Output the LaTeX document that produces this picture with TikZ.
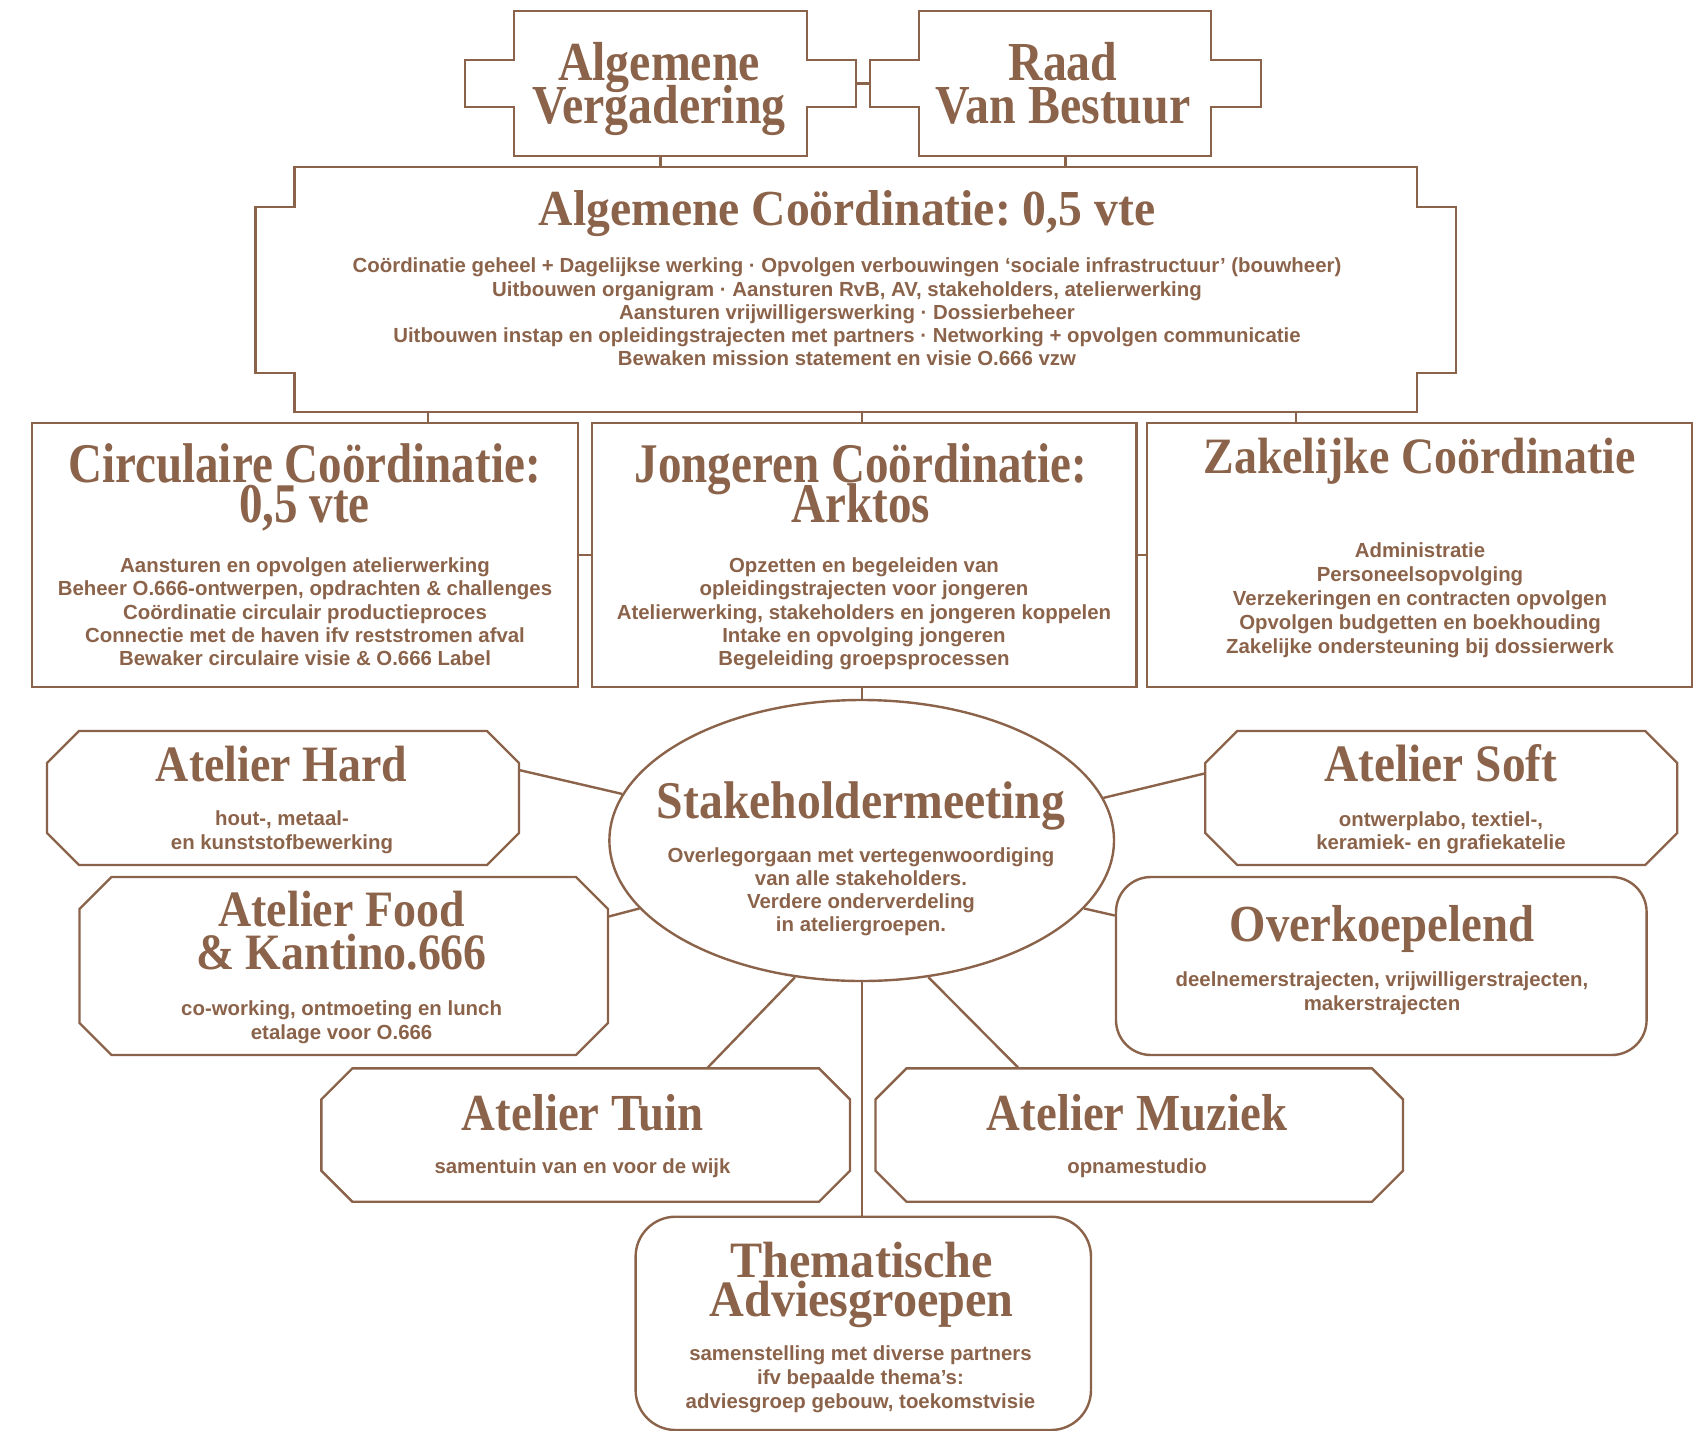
\documentclass[tikz,border=0pt]{standalone}
\usepackage{fontspec}
\usetikzlibrary{calc,shapes.geometric}
\newfontfamily\tfO{Liberation Serif}[FakeStretch=0.87]
\newfontfamily\tfA{Liberation Serif}[FakeStretch=0.84]
\newfontfamily\tfB{Liberation Serif}[FakeStretch=0.90]
\newfontfamily\tfC{Liberation Serif}[FakeStretch=0.945]
\newfontfamily\bodyfont{Liberation Sans}
\definecolor{brn}{RGB}{139,99,74}
\frenchspacing
\newcommand\tlines[6]{\foreach \t [count=\i from 0] in {#6}{\node[#2, name=#1-\i] at (#3, {#4+\i*#5}) {\t};}}
\newcommand\octa[2]{\draw ([xshift=#2]#1.north west) -- ([xshift=-#2]#1.north east) -- ([yshift=-#2]#1.north east) -- ([yshift=#2]#1.south east) -- ([xshift=-#2]#1.south east) -- ([xshift=#2]#1.south west) -- ([yshift=#2]#1.south west) -- ([yshift=-#2]#1.north west) -- cycle;}
\begin{document}
\begin{tikzpicture}[x=0.5pt,y=-0.5pt,color=brn,line width=1.2pt,line join=miter,
  ghost/.style={rectangle,inner sep=0,outer sep=0},
  box/.style={draw,rectangle,inner sep=0},
  rbox/.style={draw,rectangle,rounded corners=#1,inner sep=0},
  body/.style={font=\bodyfont\bfseries\fontsize{10.2pt}{12pt}\selectfont,anchor=base,inner sep=0},
  ttl/.style={anchor=base,inner sep=0,text depth=0pt},
  ttlO/.style={ttl,font=\tfO\bfseries\fontsize{#1}{#1}\selectfont},
  ttlA/.style={ttl,font=\tfA\bfseries\fontsize{#1}{#1}\selectfont},
  ttlB/.style={ttl,font=\tfB\bfseries\fontsize{#1}{#1}\selectfont},
  ttlC/.style={ttl,font=\tfC\bfseries\fontsize{#1}{#1}\selectfont}]
\useasboundingbox (0,0) rectangle (1694,1431);

% ---- top: Algemene Vergadering / Raad van Bestuur
\node[ghost,minimum width=195.5pt,minimum height=72.5pt] (av) at (660.5,83.5) {};
\node[ghost,minimum width=195.5pt,minimum height=72.5pt] (rvb) at (1065.5,83.5) {};
\draw (514,11) -- (807,11) -- (807,60) -- (856,60) -- (856,107) -- (807,107) -- (807,156) -- (514,156) -- (514,107) -- (465,107) -- (465,60) -- (514,60) -- cycle;
\draw (919,11) -- (1211,11) -- (1211,60) -- (1261,60) -- (1261,107) -- (1211,107) -- (1211,156) -- (919,156) -- (919,107) -- (870,107) -- (870,60) -- (919,60) -- cycle;
\tlines{avt}{ttlO=27.5pt}{659}{80}{43}{Algemene,Vergadering}
\tlines{rvbt}{ttlO=27.5pt}{1063}{80}{43}{Raad,Van Bestuur}

% ---- Algemene Coordinatie
\node[ghost,minimum width=600.2pt,minimum height=122.5pt] (coord) at (855.75,289.5) {};
\draw (294.5,167) -- (1417,167) -- (1417,207) -- (1456,207) -- (1456,373) -- (1417,373) -- (1417,412) -- (294.5,412) -- (294.5,373) -- (255.6,373) -- (255.6,207) -- (294.5,207) -- cycle;
\tlines{coordt}{ttlC=25.2pt}{847}{225}{40}{{Algemene Coördinatie: 0,5 vte}}
\tlines{coordb}{body}{847}{272.7}{23.3}{{Coördinatie geheel + Dagelijkse werking · Opvolgen verbouwingen ‘sociale infrastructuur’ (bouwheer)},{Uitbouwen organigram · Aansturen RvB, AV, stakeholders, atelierwerking},{Aansturen vrijwilligerswerking · Dossierbeheer},{Uitbouwen instap en opleidingstrajecten met partners · Networking + opvolgen communicatie},{Bewaken mission statement en visie O.666 vzw}}

% ---- level 3
\node[box,minimum width=273pt,minimum height=132pt] (circ) at (305,555) {};
\node[box,minimum width=272.25pt,minimum height=132pt] (jong) at (864.25,555) {};
\node[box,minimum width=272.5pt,minimum height=132pt] (zak) at (1419.5,555) {};
\tlines{circt}{ttlA=28pt}{304.5}{482}{40}{{Circulaire Coördinatie:},{0,5 vte}}
\tlines{circb}{body}{305}{572.3}{23.4}{{Aansturen en opvolgen atelierwerking},{Beheer O.666-ontwerpen, opdrachten \& challenges},{Coördinatie circulair productieproces},{Connectie met de haven ifv reststromen afval},{Bewaker circulaire visie \& O.666 Label}}
\tlines{jongt}{ttlA=28pt}{861}{482}{40}{{Jongeren Coördinatie:},{Arktos}}
\tlines{jongb}{body}{864}{572.3}{23.4}{{Opzetten en begeleiden van},{opleidingstrajecten voor jongeren},{Atelierwerking, stakeholders en jongeren koppelen},{Intake en opvolging jongeren},{Begeleiding groepsprocessen}}
\tlines{zakt}{ttlB=25.5pt}{1419.6}{473.3}{40}{{Zakelijke Coördinatie}}
\tlines{zakb}{body}{1420}{557.7}{23.9}{{Administratie},{Personeelsopvolging},{Verzekeringen en contracten opvolgen},{Opvolgen budgetten en boekhouding},{Zakelijke ondersteuning bij dossierwerk}}

% ---- stakeholdermeeting
\node[draw,ellipse,minimum width=252.3pt,minimum height=140.5pt,inner sep=0] (stake) at (861.7,840.5) {};
\tlines{staket}{ttlB=26.5pt}{861}{818.3}{40}{{Stakeholdermeeting}}
\tlines{stakeb}{body}{861}{862.7}{23}{{Overlegorgaan met vertegenwoordiging},{van alle stakeholders.},{Verdere onderverdeling},{in ateliergroepen.}}

% ---- ateliers
\node[ghost,minimum width=236pt,minimum height=67pt] (hard) at (283,798) {};
\octa{hard}{16pt}
\tlines{hardt}{ttlB=25.5pt}{281.5}{781.7}{40}{{Atelier Hard}}
\tlines{hardb}{body}{282}{825.3}{24}{{hout-, metaal-},{en kunststofbewerking}}

\node[ghost,minimum width=236pt,minimum height=67pt] (soft) at (1441.25,798) {};
\octa{soft}{16pt}
\tlines{softt}{ttlB=26.3pt}{1441}{781.7}{40}{{Atelier Soft}}
\tlines{softb}{body}{1441}{826}{23}{{ontwerplabo, textiel-,},{keramiek- en grafiekatelie}}

\node[ghost,minimum width=264.25pt,minimum height=89pt] (food) at (343.75,966) {};
\octa{food}{16pt}
\tlines{foodt}{ttlB=25.5pt}{341.5}{926.7}{42.6}{{Atelier Food},{\& Kantino.666}}
\tlines{foodb}{body}{341.6}{1015}{24.5}{{co-working, ontmoeting en lunch},{etalage voor O.666}}

\node[rbox=17.5pt,minimum width=265.3pt,minimum height=89pt] (over) at (1381.3,966) {};
\tlines{overt}{ttlB=26pt}{1382}{941.7}{40}{{Overkoepelend}}
\tlines{overb}{body}{1382}{986.7}{23.3}{{deelnemerstrajecten, vrijwilligerstrajecten,},{makerstrajecten}}

\node[ghost,minimum width=264.3pt,minimum height=66.7pt] (tuin) at (585.7,1135) {};
\octa{tuin}{15.5pt}
\tlines{tuint}{ttlB=26pt}{582.6}{1130.7}{40}{{Atelier Tuin}}
\tlines{tuinb}{body}{582.5}{1173.3}{23}{{samentuin van en voor de wijk}}

\node[ghost,minimum width=263.75pt,minimum height=66.7pt] (muz) at (1139.25,1135) {};
\octa{muz}{15.5pt}
\tlines{muzt}{ttlB=26pt}{1137}{1130.7}{40}{{Atelier Muziek}}
\tlines{muzb}{body}{1137}{1173}{23}{{opnamestudio}}

\node[rbox=20pt,minimum width=227.7pt,minimum height=106.65pt] (them) at (863.3,1323.35) {};
\tlines{themt}{ttlC=25.5pt}{861.6}{1277.3}{39.4}{{Thematische},{Adviesgroepen}}
\tlines{themb}{body}{860.5}{1360.7}{23.8}{{samenstelling met diverse partners},{ifv bepaalde thema’s:},{adviesgroep gebouw, toekomstvisie}}

% ---- connectors
\coordinate (k1) at (428,0);
\coordinate (k2) at (862,0);
\coordinate (k3) at (1296,0);
\draw (av.east) -- (rvb.west);
\draw (av.south) -- (av.south |- coord.north);
\draw (rvb.south) -- (rvb.south |- coord.north);
\draw (k1 |- coord.south) -- (k1 |- circ.north);
\draw (k2 |- coord.south) -- (k2 |- jong.north);
\draw (k3 |- coord.south) -- (k3 |- zak.north);
\draw (circ.east) -- (jong.west);
\draw (jong.east) -- (zak.west);
\draw (stake.north |- jong.south) -- (stake.north);
\draw ([yshift=14pt]hard.east) -- (stake.169);
\draw ([yshift=-19.85pt]food.north east) -- (stake.197.4);
\draw ([yshift=12.35pt]soft.west) -- (stake.10.8);
\draw ([yshift=-19.85pt]over.north west) -- (stake.343.6);
\draw ([xshift=60.65pt]tuin.north) -- (stake.244.2);
\draw ([xshift=-60.2pt]muz.north) -- (stake.296.7);
\draw (stake.south) -- (stake.south |- them.north);
\end{tikzpicture}
\end{document}
